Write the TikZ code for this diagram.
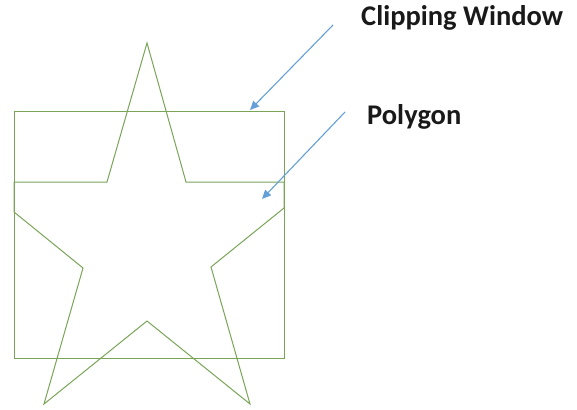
\documentclass[tikz,border=0pt]{standalone}
\usepackage{fontspec}
\setmainfont{Carlito}
\usetikzlibrary{arrows.meta}
\definecolor{shapegreen}{RGB}{122,164,88}
\definecolor{arrowblue}{RGB}{100,160,215}
\tikzset{
  outline/.style={draw=shapegreen, line width=1pt, line join=miter},
  pointer/.style={draw=arrowblue, line width=1.1pt, -{Triangle[length=9pt,width=8pt]}},
  label/.style={font=\bfseries\fontsize{28.5}{31}\selectfont, inner sep=0pt, anchor=base west, text=black!90}
}
\begin{document}
\begin{tikzpicture}[x=1pt,y=-1pt]
\useasboundingbox (0,0) rectangle (577,409);
% clipping window
\coordinate (w1) at (14,111);
\coordinate (w2) at (284,358);
\draw[outline] (w1) rectangle (w2);
% polygon
\coordinate (p1) at (147,43);
\coordinate (p2) at (186,182);
\coordinate (p3) at (284,182);
\coordinate (p4) at (284,208);
\coordinate (p5) at (211,267);
\coordinate (p6) at (250,404);
\coordinate (p7) at (147,321);
\coordinate (p8) at (44,404);
\coordinate (p9) at (83,268);
\coordinate (p10) at (14,212);
\coordinate (p11) at (14,182);
\coordinate (p12) at (107,182);
\draw[outline] (p1) -- (p2) -- (p3) -- (p4) -- (p5) -- (p6) -- (p7) -- (p8) -- (p9) -- (p10) -- (p11) -- (p12) -- cycle;
% labels
\node[label] (cw) at (361,26) {Clipping Window};
\node[label] (pg) at (367,124) {Polygon};
% pointers
\coordinate (a1s) at (333,25);
\coordinate (a1e) at (250,110);
\coordinate (a2s) at (345,112);
\coordinate (a2e) at (262,199);
\draw[pointer] (a1s) -- (a1e);
\draw[pointer] (a2s) -- (a2e);
\end{tikzpicture}
\end{document}
